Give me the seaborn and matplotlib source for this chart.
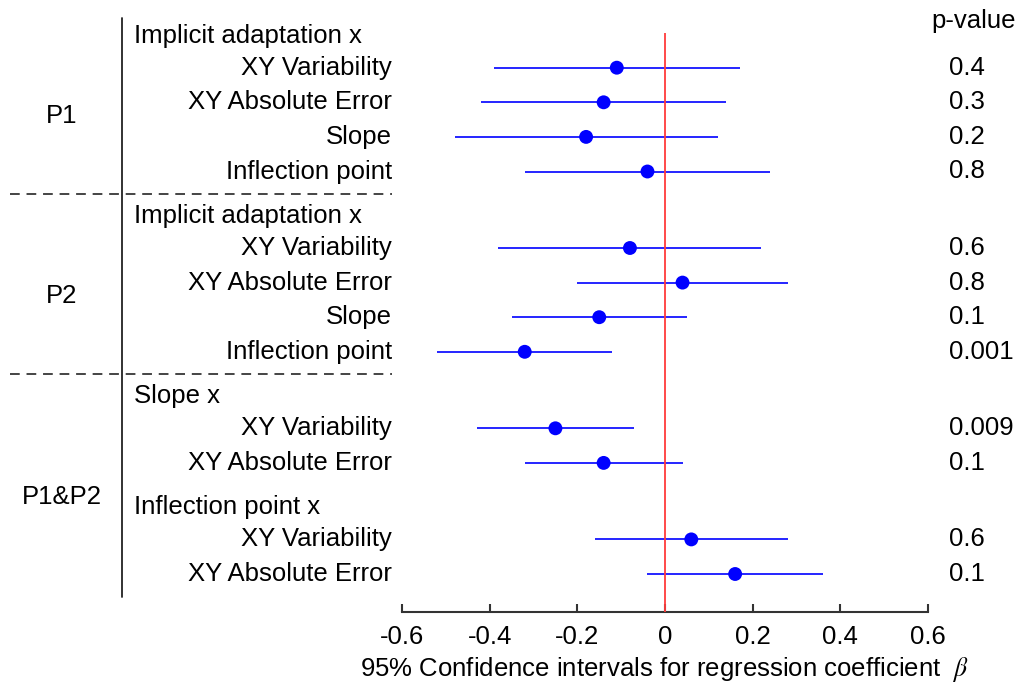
import numpy as np
import pandas as pd
import matplotlib
matplotlib.use("Agg")
import matplotlib.pyplot as plt
import matplotlib.transforms as mtransforms
import seaborn as sns

# ---------------- data ----------------
groups = ["P1"] * 4 + ["P2"] * 4 + ["P1&P2"] * 4
subheads = (["Implicit adaptation x"] * 8 + ["Slope x"] * 2
            + ["Inflection point x"] * 2)
measures = (["XY Variability", "XY Absolute Error", "Slope", "Inflection point"] * 2
            + ["XY Variability", "XY Absolute Error"] * 2)
beta = [-0.11, -0.14, -0.18, -0.04, -0.08, 0.04, -0.15, -0.32, -0.25, -0.14, 0.06, 0.16]
ci_low = [-0.39, -0.42, -0.48, -0.32, -0.38, -0.20, -0.35, -0.52, -0.43, -0.32, -0.16, -0.04]
ci_high = [0.17, 0.14, 0.12, 0.24, 0.22, 0.28, 0.05, -0.12, -0.07, 0.04, 0.28, 0.36]
p_values = ["0.4", "0.3", "0.2", "0.8", "0.6", "0.8", "0.1", "0.001",
            "0.009", "0.1", "0.6", "0.1"]
xticks = [-0.6, -0.4, -0.2, 0, 0.2, 0.4, 0.6]
xtick_labels = ["-0.6", "-0.4", "-0.2", "0", "0.2", "0.4", "0.6"]

# ---------------- layout (pixel-like y units, top-down) ----------------
W, H = 1019, 689
FIRST_ROW = 67.7
ROW_STEP = 34.6
BLOCK_STEP = 76.5
HEAD_OFF = 32.0

ypos = []
header_pos = []     # (text, y)
group_rows = {}
y = FIRST_ROW
prev_key = None
for i in range(len(beta)):
    key = (groups[i], subheads[i])
    if i > 0:
        y += BLOCK_STEP if key != prev_key else ROW_STEP
    if key != prev_key:
        header_pos.append((subheads[i], y - HEAD_OFF))
    ypos.append(y)
    group_rows.setdefault(groups[i], []).append(y)
    prev_key = key

df = pd.DataFrame({"group": groups, "sub": subheads, "measure": measures,
                   "beta": beta, "lo": ci_low, "hi": ci_high,
                   "p": p_values, "y": ypos})

# ---------------- figure ----------------
sns.set_theme(style="white")
plt.rcParams["font.family"] = ["Liberation Sans", "DejaVu Sans"]
plt.rcParams["mathtext.fontset"] = "stix"

fig = plt.figure(figsize=(W / 100, H / 100), dpi=100)
ax_top_px, ax_bot_px = 15, 612
ax_left_px, ax_right_px = 402, 928
ax = fig.add_axes([ax_left_px / W, (H - ax_bot_px) / H,
                   (ax_right_px - ax_left_px) / W, (ax_bot_px - ax_top_px) / H])
ax.set_xlim(-0.6, 0.6)
ax.set_ylim(ax_bot_px, ax_top_px)

# CI lines
ax.hlines(df["y"], df["lo"], df["hi"], color="#0000ff", lw=1.2, zorder=2)
# zero line
ax.vlines(0, 33, ax_bot_px, color="#ff3b3b", lw=1.3, zorder=3)
# points
sns.scatterplot(data=df, x="beta", y="y", ax=ax, color="#0000ff", s=100,
                edgecolor="none", zorder=4, legend=False)

for s in ["top", "right", "left"]:
    ax.spines[s].set_visible(False)
ax.spines["bottom"].set_color("#333333")
ax.spines["bottom"].set_linewidth(1.5)
ax.set_yticks([])
ax.set_ylabel("")
ax.set_xticks(xticks)
ax.set_xticklabels(xtick_labels, fontsize=18.5, color="black")
ax.tick_params(axis="x", direction="in", length=6, width=1.5, color="#333333",
               pad=9, bottom=True)
ax.set_xlabel(r"95% Confidence intervals for regression coefficient  $\beta$",
              fontsize=18.5, labelpad=5, color="black")

trans = mtransforms.blended_transform_factory(fig.transFigure, ax.transData)
FS = 18.5

# row labels
for _, r in df.iterrows():
    ax.text(392 / W, r["y"], r["measure"], transform=trans, ha="right",
            va="center", fontsize=FS, color="black", clip_on=False)
    ax.text(949 / W, r["y"], r["p"], transform=trans, ha="left",
            va="center", fontsize=FS, color="black", clip_on=False)

# sub headers
for txt, hy in header_pos:
    ax.text(134 / W, hy, txt, transform=trans, ha="left", va="center",
            fontsize=FS, color="black", clip_on=False)

# group labels and separators
glist = list(dict.fromkeys(groups))
for gi, g in enumerate(glist):
    rows = group_rows[g]
    ax.text(62 / W, np.mean(rows) - 4, g, transform=trans, ha="center",
            va="center", fontsize=FS, color="black", clip_on=False)
    if gi < len(glist) - 1:
        ysep = rows[-1] + 22
        ax.plot([10 / W, 392 / W], [ysep, ysep], transform=trans,
                color="#444444", lw=1.4, ls=(0, (5, 3.5)), clip_on=False)

# vertical divider
ax.plot([122 / W, 122 / W], [18, ypos[-1] + 23], transform=trans,
        color="#222222", lw=1.3, clip_on=False)

# p-value header
ax.text(974 / W, 21, "p-value", transform=trans, ha="center", va="center",
        fontsize=FS, color="black", clip_on=False)

fig.savefig("out.png", dpi=100)
